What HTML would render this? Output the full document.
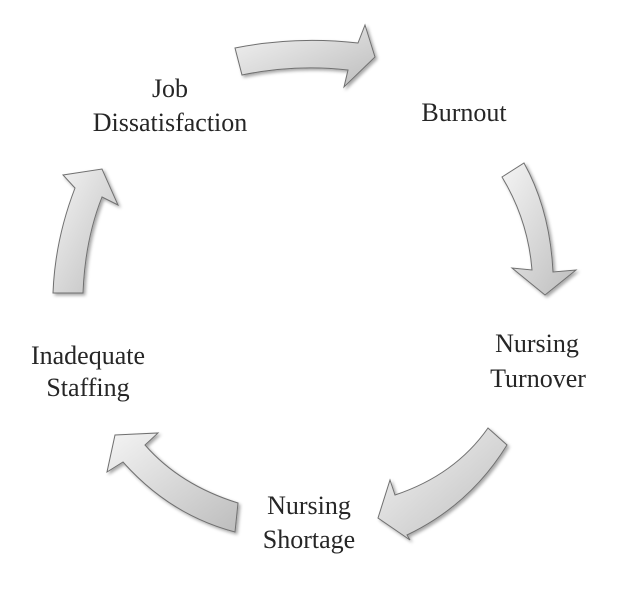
<!DOCTYPE html>
<html><head><style>
html,body{margin:0;padding:0;background:#fff;}
svg{display:block;}
text{font-family:"Liberation Serif",serif;font-size:26px;fill:#262626;text-anchor:middle;}
</style></head><body>
<svg width="628" height="593" viewBox="0 0 628 593" xmlns="http://www.w3.org/2000/svg">
<defs>
<linearGradient id="g" x1="0" y1="0" x2="1" y2="1">
<stop offset="0" stop-color="#f4f4f4"/><stop offset="1" stop-color="#bdbdbd"/>
</linearGradient>
<filter id="s" x="-20%" y="-20%" width="140%" height="140%">
<feDropShadow dx="2" dy="2" stdDeviation="1.5" flood-color="#000" flood-opacity="0.35"/>
</filter>
</defs>
<g fill="url(#g)" stroke="#6f6f6f" stroke-width="1" filter="url(#s)">
<path d="M235,48 Q295,36 358,43 L365,25 L375,57 L344,87 L348,70 Q295,64 242,75 Z"/>
<path d="M502,177 L524,163 Q550,210 553,272 L576,270 L545,295 L512,268 L532,270 Q528,220 502,177 Z"/>
<path d="M488,428 L507,445 Q470,505 407,535 L410,540 L378,518 L390,480 L395,495 Q455,475 488,428 Z"/>
<path d="M238,503 L235,532 Q170,515 123,462 L107,472 L115,435 L158,433 L145,445 Q180,485 238,503 Z"/>
<path d="M53,293 L83,293 Q85,240 102,197 L118,205 L102,169 L63,175 L75,188 Q55,240 53,293 Z"/>
</g>
<text x="170" y="97">Job</text>
<text x="170" y="131">Dissatisfaction</text>
<text x="464" y="121">Burnout</text>
<text x="537" y="352">Nursing</text>
<text x="538" y="387">Turnover</text>
<text x="88" y="364">Inadequate</text>
<text x="88" y="396">Staffing</text>
<text x="309" y="514">Nursing</text>
<text x="309" y="548">Shortage</text>
</svg>
</body></html>
